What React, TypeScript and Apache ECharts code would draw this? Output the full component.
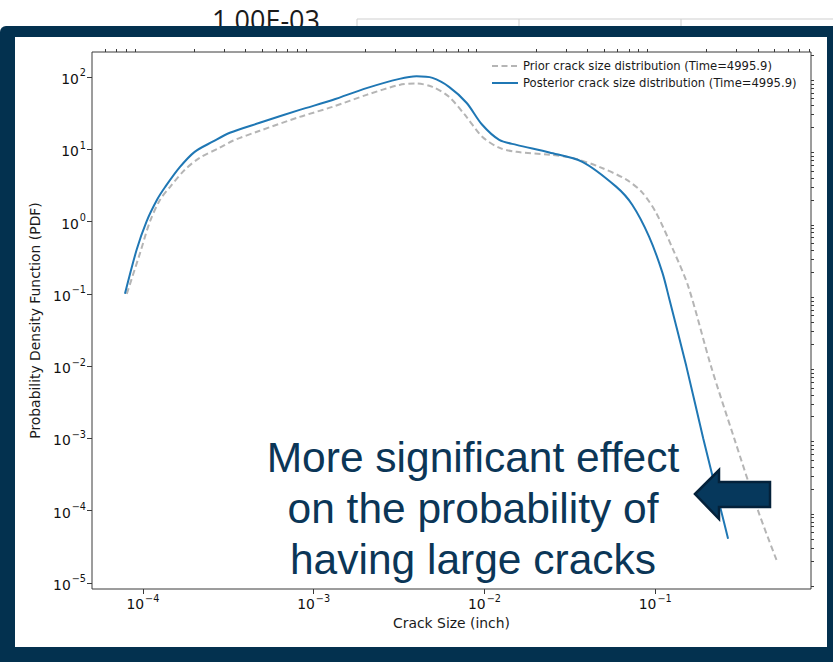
import React, { useEffect, useRef } from "react";
import * as echarts from "echarts";

// ---------- data ----------
const priorX = [
  8.05e-5, 9.6e-5, 1.1e-4, 1.26e-4, 1.44e-4, 1.76e-4, 2.15e-4, 2.82e-4, 3.36e-4, 4.83e-4,
  8.28e-4, 1.29e-3, 2.04e-3, 3.18e-3, 4.0e-3, 4.96e-3, 6.2e-3, 7.85e-3, 9.7e-3, 1.22e-2,
  1.54e-2, 2.4e-2, 3.27e-2, 4.7e-2, 6.77e-2, 8.4e-2, 0.101, 0.127, 0.156, 0.212,
  0.29, 0.4, 0.517,
];
const priorY = [
  0.1, 0.36, 1.0, 2.0, 3.0, 5.2, 7.6, 10.5, 13.1, 18,
  28, 38.6, 56.5, 77.6, 81, 72.8, 53, 28, 14.9, 10.5,
  9.2, 8.4, 7.6, 5.7, 3.8, 2.51, 1.33, 0.411, 0.127, 0.01,
  1e-3, 1e-4, 1.98e-5,
];
const posteriorX = [
  7.85e-5, 9.2e-5, 1.05e-4, 1.21e-4, 1.35e-4, 1.64e-4, 2.01e-4, 2.56e-4, 3.23e-4, 4.83e-4,
  8.28e-4, 1.29e-3, 2.04e-3, 3.18e-3, 4.0e-3, 4.96e-3, 6.2e-3, 7.85e-3, 9.7e-3, 1.22e-2,
  1.54e-2, 2.4e-2, 3.74e-2, 5.9e-2, 7.33e-2, 9.2e-2, 0.11, 0.121, 0.152, 0.191,
  0.243, 0.267,
];
const posteriorY = [
  0.1, 0.41, 1.0, 2.0, 3.0, 5.6, 9.2, 12.7, 16.9, 23.2,
  35, 48, 70, 94, 102, 97, 73, 44, 21.8, 13.5,
  11.5, 9.0, 6.7, 3.04, 1.71, 0.62, 0.198, 0.084, 0.01, 1e-3,
  1e-4, 4.1e-5,
];

const seriesNames = [
  "Prior crack size distribution (Time=4995.9)",
  "Posterior crack size distribution (Time=4995.9)",
];
const xMajorTicks = [1e-4, 1e-3, 1e-2, 1e-1];
const yMajorTicks = [1e-5, 1e-4, 1e-3, 1e-2, 1e-1, 1, 10, 100];
const minorMultipliers = [2, 3, 4, 5, 6, 7, 8, 9];
const xDecades = [1e-5, 1e-4, 1e-3, 1e-2, 1e-1];
const yDecades = [1e-6, 1e-5, 1e-4, 1e-3, 1e-2, 1e-1, 1, 10, 100];
const xAxisTitle = "Crack Size (inch)";
const yAxisTitle = "Probability Density Function (PDF)";
const annotationLines = ["More significant effect", "on the probability of", "having large cracks"];
const headerText = "1.00E-03";

// ---------- layout / style ----------
const W = 833;
const H = 662;
const GRID = { left: 92, top: 52, right: 811, bottom: 589 };
const X_MIN = Math.pow(10, -4.298);
const X_MAX = Math.pow(10, -0.088);
const Y_MIN = Math.pow(10, -5.083);
const Y_MAX = Math.pow(10, 2.345);
const NAVY = "#03314f";
const TEXT_NAVY = "#0b3657";
const FONT = "DejaVu Sans";
const AXIS_COLOR = "#3a3a3a";

const minorFrom = (decades: number[]) => {
  const out: number[] = [];
  decades.forEach((d) => minorMultipliers.forEach((m) => out.push(+(d * m).toPrecision(6))));
  return out;
};

const powLabel = (v: number) => {
  const e = Math.round(Math.log10(v));
  return `{b|10}{s|${e < 0 ? "\u2212" : ""}${Math.abs(e)}}`;
};

const richLabel = {
  b: { fontSize: 13.9, fontFamily: FONT, color: "#111", lineHeight: 18, verticalAlign: "bottom" },
  s: { fontSize: 9.7, fontFamily: FONT, color: "#111", lineHeight: 12, verticalAlign: "top", padding: [0, 0, 0, 1] },
};

export default function App() {
  const ref = useRef<HTMLDivElement>(null);

  useEffect(() => {
    if (!ref.current) return;
    const chart = echarts.init(ref.current, undefined, { renderer: "svg" });

    const xMinor = minorFrom(xDecades).filter((v) => v > X_MIN && v < X_MAX);
    const yMinor = minorFrom(yDecades).filter((v) => v > Y_MIN && v < Y_MAX);
    const gridW = GRID.right - GRID.left;
    const gridH = GRID.bottom - GRID.top;

    const centerX = 473;
    const graphics: any[] = [
      {
        type: "text",
        z: 0,
        style: { x: 212, y: 6, text: headerText, fill: "#1a1a1a", font: '27px "Open Sans"' },
      },
      { type: "line", z: 0, shape: { x1: 357, y1: 19, x2: 833, y2: 19 }, style: { stroke: "#cfcfcf", lineWidth: 1 } },
      { type: "line", z: 0, shape: { x1: 357, y1: 19, x2: 357, y2: 30 }, style: { stroke: "#cfcfcf", lineWidth: 1 } },
      { type: "line", z: 0, shape: { x1: 519, y1: 19, x2: 519, y2: 30 }, style: { stroke: "#cfcfcf", lineWidth: 1 } },
      { type: "line", z: 0, shape: { x1: 681, y1: 19, x2: 681, y2: 30 }, style: { stroke: "#cfcfcf", lineWidth: 1 } },
      { type: "rect", z: 0, shape: { x: 0, y: 26, width: W, height: H - 26, r: [6, 0, 0, 0] }, style: { fill: NAVY } },
      { type: "rect", z: 0, shape: { x: 15, y: 37, width: 812, height: 610 }, style: { fill: "#ffffff" } },
      ...annotationLines.map((t, i) => ({
        type: "text",
        z: 100,
        style: {
          x: centerX,
          y: 436 + i * 51,
          text: t,
          fill: TEXT_NAVY,
          font: '42.5px "Liberation Sans"',
          align: "center",
          verticalAlign: "top",
        },
      })),
      {
        type: "polygon",
        z: 100,
        shape: {
          points: [
            [695, 494],
            [719, 470],
            [719, 482],
            [770, 482],
            [770, 507],
            [719, 507],
            [719, 519],
          ],
        },
        style: { fill: "#06385c", stroke: "#04213a", lineWidth: 2.5, lineJoin: "miter" },
      },
    ];

    const tickStyle = { color: AXIS_COLOR, width: 1 };

    const option: any = {
      animation: false,
      backgroundColor: "#ffffff",
      grid: {
        left: GRID.left,
        top: GRID.top,
        width: gridW,
        height: gridH,
        show: true,
        borderColor: AXIS_COLOR,
        borderWidth: 1,
        backgroundColor: "transparent",
        z: 10,
      },
      legend: {
        orient: "vertical",
        left: 486,
        top: 55,
        itemWidth: 26,
        itemHeight: 10,
        itemGap: 5,
        itemStyle: { opacity: 0 },
        textStyle: { fontSize: 11.6, fontFamily: FONT, color: "#1a1a1a" },
        data: seriesNames,
        z: 20,
      },
      xAxis: [
        {
          type: "log",
          logBase: 10,
          min: X_MIN,
          max: X_MAX,
          z: 20,
          name: xAxisTitle,
          nameLocation: "middle",
          nameGap: 23,
          nameTextStyle: { fontSize: 13.9, fontFamily: FONT, color: "#1a1a1a", verticalAlign: "top" },
          axisLine: { show: false },
          splitLine: { show: false },
          axisTick: { show: true, length: 5, customValues: xMajorTicks, lineStyle: tickStyle },
          axisLabel: { customValues: xMajorTicks, formatter: powLabel, rich: richLabel, margin: 4 },
          minorTick: { show: false },
        },
        {
          type: "log",
          logBase: 10,
          min: X_MIN,
          max: X_MAX,
          z: 20,
          axisLine: { show: false },
          splitLine: { show: false },
          axisTick: { show: true, length: 3, customValues: xMinor, lineStyle: tickStyle },
          axisLabel: { show: false },
        },
      ],
      yAxis: [
        {
          type: "log",
          logBase: 10,
          min: Y_MIN,
          max: Y_MAX,
          z: 20,
          name: yAxisTitle,
          nameLocation: "middle",
          nameGap: 48,
          nameTextStyle: { fontSize: 13.9, fontFamily: FONT, color: "#1a1a1a" },
          axisLine: { show: false },
          splitLine: { show: false },
          axisTick: { show: true, length: 5, customValues: yMajorTicks, lineStyle: tickStyle },
          axisLabel: { customValues: yMajorTicks, formatter: powLabel, rich: richLabel, margin: 6 },
        },
        {
          type: "log",
          logBase: 10,
          min: Y_MIN,
          max: Y_MAX,
          z: 20,
          axisLine: { show: false },
          splitLine: { show: false },
          axisTick: { show: true, length: 3, customValues: yMinor, lineStyle: tickStyle },
          axisLabel: { show: false },
        },
      ],
      series: [
        {
          name: seriesNames[0],
          type: "line",
          data: priorX.map((x, i) => [x, priorY[i]]),
          showSymbol: false,
          symbol: "none",
          smooth: 0.3,
          lineStyle: { color: "#b5b5b5", width: 2, type: [6, 3.5] },
          itemStyle: { color: "#b5b5b5" },
          z: 15,
        },
        {
          name: seriesNames[1],
          type: "line",
          data: posteriorX.map((x, i) => [x, posteriorY[i]]),
          showSymbol: false,
          symbol: "none",
          smooth: 0.3,
          lineStyle: { color: "#1f77b4", width: 2 },
          itemStyle: { color: "#1f77b4" },
          z: 16,
        },
      ],
      graphic: graphics,
    };

    chart.setOption(option);
    return () => chart.dispose();
  }, []);

  return (
    <div
      ref={ref}
      style={{ position: "fixed", left: 0, top: 0, width: W, height: H, background: "#fff" }}
    />
  );
}
